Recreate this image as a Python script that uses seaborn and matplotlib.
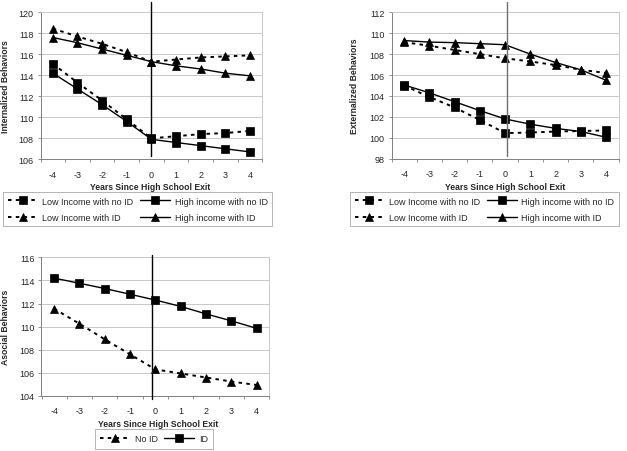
import matplotlib
matplotlib.use("Agg")
import matplotlib.pyplot as plt
import seaborn as sns
import numpy as np
from matplotlib.lines import Line2D

years = [-4, -3, -2, -1, 0, 1, 2, 3, 4]
year_labels = ["-4", "-3", "-2", "-1", "0", "1", "2", "3", "4"]

# Internalized behaviors
int_low_noid = [115.1, 113.3, 111.6, 109.8, 108.0, 108.2, 108.4, 108.5, 108.7]
int_high_noid = [114.2, 112.7, 111.2, 109.6, 107.9, 107.6, 107.3, 107.0, 106.7]
int_low_id = [118.45, 117.7, 117.0, 116.2, 115.3, 115.5, 115.7, 115.8, 115.9]
int_high_id = [117.6, 117.1, 116.5, 115.9, 115.3, 114.9, 114.6, 114.2, 113.95]

# Externalized behaviors
ext_low_noid = [105.0, 103.9, 102.9, 101.7, 100.45, 100.5, 100.6, 100.65, 100.7]
ext_high_noid = [105.05, 104.3, 103.45, 102.6, 101.8, 101.3, 100.9, 100.6, 100.05]
ext_low_id = [109.15, 108.8, 108.4, 108.0, 107.6, 107.3, 106.95, 106.5, 106.2]
ext_high_id = [109.3, 109.15, 109.1, 109.0, 108.9, 108.0, 107.2, 106.5, 105.5]

# Asocial behaviors
aso_noid = [111.55, 110.25, 108.9, 107.6, 106.3, 105.95, 105.6, 105.25, 104.95]
aso_id = [114.2, 113.75, 113.3, 112.8, 112.3, 111.75, 111.1, 110.5, 109.85]

sns.set_style("white")
plt.rcParams["font.family"] = ["Liberation Sans", "DejaVu Sans"]

W, H = 627, 452
fig = plt.figure(figsize=(W / 100, H / 100), dpi=100)

DASH = (0, (1.8, 2.2))
GRID = "#c8c8c8"
FS = 6.5
LFS = 6.2


def axes_px(l, r, t, b):
    return fig.add_axes([l / W, 1 - b / H, (r - l) / W, (b - t) / H])


def series(ax, y, marker, dashed, label):
    ms = 5.3 if marker == "s" else 6.2
    sns.lineplot(x=years, y=y, ax=ax, color="black", marker=marker,
                 markersize=ms, markeredgecolor="black", markeredgewidth=0.5,
                 linestyle=DASH if dashed else "-",
                 linewidth=1.4 if dashed else 1.0, label=label, legend=False)


def style_axes(ax, ymin, ymax, ylabel, xlab_y, xlab_x, ylab_x):
    ax.set_xlim(-4.5, 4.5)
    ax.set_ylim(ymin, ymax)
    ax.set_xticks(years)
    ax.set_xticklabels(year_labels)
    ax.set_xticks(np.arange(-4.5, 4.6, 1.0), minor=True)
    ax.set_yticks(np.arange(ymin, ymax + 0.1, 2))
    ax.tick_params(axis="x", which="major", length=0, pad=7.5, labelsize=FS)
    ax.tick_params(axis="x", which="minor", length=2.5, width=0.6,
                   color="#808080", direction="out", bottom=True)
    ax.tick_params(axis="y", which="major", length=2.5, width=0.6,
                   color="#808080", direction="out", left=True, pad=2.5,
                   labelsize=FS)
    ax.yaxis.grid(True, color=GRID, linewidth=0.7)
    ax.set_axisbelow(True)
    for s in ["top", "right"]:
        ax.spines[s].set_color(GRID)
        ax.spines[s].set_linewidth(0.7)
    for s in ["left", "bottom"]:
        ax.spines[s].set_color("#808080")
        ax.spines[s].set_linewidth(0.7)
    ax.set_ylabel(ylabel, fontsize=LFS, fontweight="bold")
    ax.yaxis.set_label_coords(ylab_x, 0.5)
    ax.set_xlabel("Years Since High School Exit", fontsize=LFS,
                  fontweight="bold")
    ax.xaxis.set_label_coords(xlab_x, xlab_y)


def vline(ax, x, y0, y1, color):
    ax.add_line(Line2D([x, x], [y0, y1], color=color, linewidth=1.0,
                       clip_on=False, zorder=5))


def legend_handles(pairs):
    hs = []
    for marker, dashed in pairs:
        ms = 5.3 if marker == "s" else 6.2
        hs.append(Line2D([], [], color="black", marker=marker, markersize=ms,
                         markeredgecolor="black", markeredgewidth=0.5,
                         linestyle=DASH if dashed else "-",
                         linewidth=1.4 if dashed else 1.0))
    return hs


def add_legend(ax, handles, labels, ncol, x0, y0, colsp, bpad):
    leg = ax.legend(handles, labels, ncol=ncol, loc="upper left",
                    bbox_to_anchor=(x0 / W, 1 - y0 / H),
                    bbox_transform=fig.transFigure, fontsize=FS,
                    frameon=True, fancybox=False, handlelength=3.3,
                    handletextpad=0.5, columnspacing=colsp,
                    labelspacing=0.8, borderpad=bpad, borderaxespad=0,
                    numpoints=1)
    fr = leg.get_frame()
    fr.set_edgecolor("#a0a0a0")
    fr.set_linewidth(0.7)
    return leg


# ---------- Panel 1: Internalized ----------
ax1 = axes_px(40.5, 262.4, 13.3, 160.3)
series(ax1, int_low_noid, "s", True, "Low Income with no ID")
series(ax1, int_high_noid, "s", False, "High income with no ID")
series(ax1, int_low_id, "^", True, "Low Income with ID")
series(ax1, int_high_id, "^", False, "High income with ID")
style_axes(ax1, 106, 120, "Internalized Behaviors", -0.155, 0.493, -0.137)
vline(ax1, 0.0, 121.0, 106.3, "black")
h = legend_handles([("s", True), ("^", True), ("s", False), ("^", False)])
add_legend(ax1, h, ["Low Income with no ID", "Low Income with ID",
                    "High income with no ID", "High income with ID"],
           2, 3.3, 193, 0.8, 0.5)

# ---------- Panel 2: Externalized ----------
ax2 = axes_px(391.5, 618.7, 13.3, 159.7)
series(ax2, ext_low_noid, "s", True, "Low Income with no ID")
series(ax2, ext_high_noid, "s", False, "High income with no ID")
series(ax2, ext_low_id, "^", True, "Low Income with ID")
series(ax2, ext_high_id, "^", False, "High income with ID")
style_axes(ax2, 98, 112, "Externalized Behaviors", -0.16, 0.498, -0.141)
vline(ax2, 0.09, 113.0, 98.3, "#707070")
add_legend(ax2, h, ["Low Income with no ID", "Low Income with ID",
                    "High income with no ID", "High income with ID"],
           2, 350, 193, 0.8, 0.5)

# ---------- Panel 3: Asocial ----------
ax3 = axes_px(41.5, 269.4, 258.3, 397.0)
series(ax3, aso_noid, "^", True, "No ID")
series(ax3, aso_id, "s", False, "ID")
style_axes(ax3, 104, 116, "Asocial Behaviors", -0.165, 0.511, -0.138)
vline(ax3, -0.13, 116.2, 103.74, "black")
h3 = legend_handles([("^", True), ("s", False)])
add_legend(ax3, h3, ["No ID", "ID"], 2, 95, 430, 0.75, 0.6)

fig.savefig("out.png", dpi=100)
